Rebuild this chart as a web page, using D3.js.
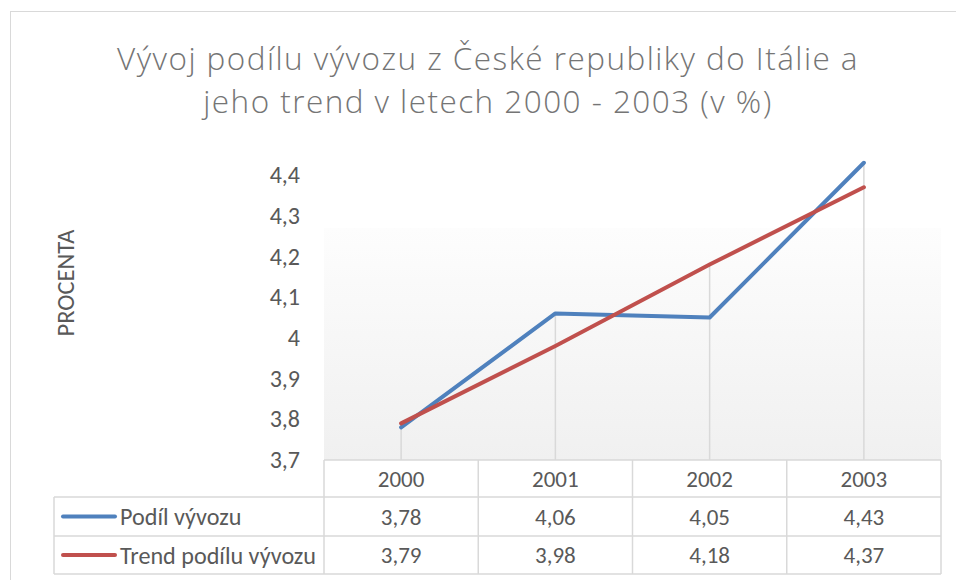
<!DOCTYPE html>
<html>
<head>
<meta charset="utf-8">
<script src="https://cdn.jsdelivr.net/npm/d3@7"></script>
<style>
  body { margin: 0; background: #fff; }
  text { font-family: Carlito, "Open Sans", sans-serif; }
  .light { font-family: "Open Sans", sans-serif; font-weight: 300; }
</style>
</head>
<body>
<div id="chart"></div>
<script>
const years = ["2000", "2001", "2002", "2003"];
const podil = [3.78, 4.06, 4.05, 4.43];
const trend = [3.79, 3.98, 4.18, 4.37];
const yTicks = [3.7, 3.8, 3.9, 4.0, 4.1, 4.2, 4.3, 4.4];
const seriesNames = ["Podíl vývozu", "Trend podílu vývozu"];
const titleLines = ["Vývoj podílu vývozu z České republiky do Itálie a", "jeho trend v letech 2000 - 2003 (v %)"];

const W = 956, H = 580;
const series = [
  { name: seriesNames[0], values: podil, color: "#4f81bd" },
  { name: seriesNames[1], values: trend, color: "#c0504d" }
];
const fmt = v => String(+v.toFixed(2)).replace(".", ",");

// scale text to a target width
function fit(sel, width) {
  sel.style("font-size", "100px");
  const w = sel.node().getComputedTextLength();
  const size = 100 * width / w;
  sel.style("font-size", size + "px");
  return size;
}

const svg = d3.select("#chart")
  .append("svg")
    .attr("width", W)
    .attr("height", H);

svg.append("rect")
  .attr("x", 10.5).attr("y", 11.5)
  .attr("width", W).attr("height", H)
  .attr("fill", "#fff")
  .attr("stroke", "#d9d9d9");

// title: fixed size, letter spacing widens it to the reference width
const titleSize = 31.5;
const titles = svg.selectAll("text.title")
  .data(titleLines)
  .join("text")
    .attr("class", "title light")
    .attr("x", 488)
    .attr("y", (d, i) => i === 0 ? 70 : 113)
    .attr("text-anchor", "middle")
    .attr("fill", "#757575")
    .style("font-size", titleSize + "px")
    .text(d => d);
const tw = titles.nodes()[0].getComputedTextLength();
const spacing = Math.max(0, (742 - tw) / titleLines[0].length);
titles.style("letter-spacing", spacing + "px");

const x = d3.scaleBand().domain(years).range([324, 941]);
const y = d3.scaleLinear().domain([3.7, 4.4]).range([460, 175]);

// plot area gradient
const grad = svg.append("defs").append("linearGradient")
  .attr("id", "bg").attr("x1", 0).attr("y1", 0).attr("x2", 0).attr("y2", 1);
grad.append("stop").attr("offset", "0%").attr("stop-color", "#fdfdfd");
grad.append("stop").attr("offset", "100%").attr("stop-color", "#f0f0f0");
svg.append("rect")
  .attr("x", x.range()[0]).attr("y", 228)
  .attr("width", x.range()[1] - x.range()[0])
  .attr("height", y(3.7) - 228)
  .attr("fill", "url(#bg)");

// y axis labels
const yAxis = svg.append("g")
  .attr("transform", "translate(300,0)")
  .call(d3.axisLeft(y).tickValues(yTicks).tickSize(0).tickPadding(0).tickFormat(fmt));
yAxis.select(".domain").remove();
yAxis.selectAll("text")
  .style("font-family", 'Carlito, "Open Sans", sans-serif')
  .style("font-size", "24px")
  .attr("fill", "#595959");

const yt = svg.append("text")
  .attr("transform", "translate(66,283) rotate(-90)")
  .attr("text-anchor", "middle")
  .attr("dominant-baseline", "central")
  .attr("fill", "#595959")
  .text("PROCENTA");
fit(yt, 107);

// drop lines
svg.selectAll("line.drop")
  .data(years)
  .join("line")
    .attr("class", "drop")
    .attr("x1", d => x(d) + x.bandwidth() / 2)
    .attr("x2", d => x(d) + x.bandwidth() / 2)
    .attr("y1", y(3.7))
    .attr("y2", (d, i) => y(d3.max(series, s => s.values[i])))
    .attr("stroke", "#d9d9d9")
    .attr("stroke-width", 1.5);

// lines
const line = d3.line()
  .x((d, i) => x(years[i]) + x.bandwidth() / 2)
  .y(d => y(d));
svg.selectAll("path.series")
  .data(series)
  .join("path")
    .attr("class", "series")
    .attr("d", d => line(d.values))
    .attr("fill", "none")
    .attr("stroke", d => d.color)
    .attr("stroke-width", 4)
    .attr("stroke-linecap", "round")
    .attr("stroke-linejoin", "round");

// data table
const rowTop = [460, 497, 536, 574];
const tableLeft = 54;
const grid = svg.append("g")
  .attr("stroke", "#d9d9d9")
  .attr("stroke-width", 1.5)
  .attr("fill", "none");
grid.append("line").attr("x1", x.range()[0]).attr("x2", x.range()[1]).attr("y1", rowTop[0]).attr("y2", rowTop[0]);
rowTop.slice(1).forEach(r => {
  grid.append("line").attr("x1", tableLeft).attr("x2", x.range()[1]).attr("y1", r).attr("y2", r);
});
grid.append("line").attr("x1", tableLeft).attr("x2", tableLeft).attr("y1", rowTop[1]).attr("y2", rowTop[3]);
years.concat(["end"]).forEach((d, i) => {
  const xx = i < years.length ? x(d) : x.range()[1];
  grid.append("line").attr("x1", xx).attr("x2", xx).attr("y1", rowTop[0]).attr("y2", rowTop[3]);
});

svg.selectAll("text.year")
  .data(years)
  .join("text")
    .attr("class", "year")
    .attr("x", d => x(d) + x.bandwidth() / 2)
    .attr("y", (rowTop[0] + rowTop[1]) / 2)
    .attr("text-anchor", "middle")
    .attr("dominant-baseline", "central")
    .attr("fill", "#595959")
    .style("font-size", "23px")
    .text(d => d);

series.forEach((s, si) => {
  const cy = (rowTop[si + 1] + rowTop[si + 2]) / 2;
  svg.append("line")
    .attr("x1", 63).attr("x2", 115)
    .attr("y1", cy).attr("y2", cy)
    .attr("stroke", s.color)
    .attr("stroke-width", 4)
    .attr("stroke-linecap", "round");
  svg.append("text")
    .attr("class", "legend")
    .attr("x", 120).attr("y", cy)
    .attr("dominant-baseline", "central")
    .attr("fill", "#595959")
    .style("font-size", "23px")
    .text(s.name);
  svg.selectAll(null)
    .data(s.values)
    .join("text")
      .attr("x", (d, i) => x(years[i]) + x.bandwidth() / 2)
      .attr("y", cy)
      .attr("text-anchor", "middle")
      .attr("dominant-baseline", "central")
      .attr("fill", "#595959")
      .style("font-size", "23px")
      .text(fmt);
});
// keep legend labels inside their column
const ls = fit(svg.selectAll("text.legend").filter((d, i) => i === 1), 196);
svg.selectAll("text.legend").style("font-size", ls + "px");
</script>
</body>
</html>
